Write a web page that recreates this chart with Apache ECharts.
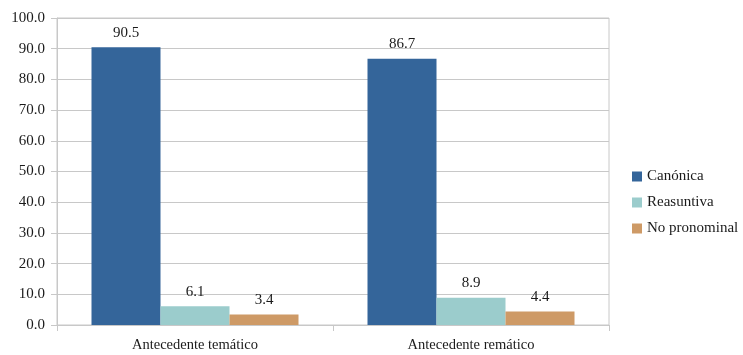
<!DOCTYPE html>
<html>
<head>
<meta charset="utf-8">
<script src="https://cdn.jsdelivr.net/npm/echarts@6/dist/echarts.min.js"></script>
<style>html,body{margin:0;padding:0;background:#fff;}#c{width:743px;height:355px;}</style>
</head>
<body>
<div id="c"></div>
<script>
const categories = ['Antecedente temático', 'Antecedente remático'];
const seriesNames = ['Canónica', 'Reasuntiva', 'No pronominal'];
const canonica = [90.5, 86.7];
const reasuntiva = [6.1, 8.9];
const noPronominal = [3.4, 4.4];
const colors = ['#34659A', '#9BCCCC', '#CE9A66'];

const font = 'Liberation Serif';
const textColor = '#1a1a1a';
const gridColor = '#c8c8c8';

const chart = echarts.init(document.getElementById('c'));
function mk(name, data, color) {
  return {
    name: name, type: 'bar', data: data, barGap: '0%', barCategoryGap: '25%',
    itemStyle: { color: color },
    label: { show: true, position: 'top', distance: 7, fontFamily: font, fontSize: 15, color: textColor,
      formatter: p => p.value.toFixed(1) }
  };
}
chart.setOption({
  animation: false,
  grid: { left: 57, right: 134, top: 18, bottom: 30, show: true, borderColor: gridColor, borderWidth: 1 },
  legend: {
    orient: 'vertical', left: 627, top: 164, itemWidth: 10, itemHeight: 10, itemGap: 11,
    icon: 'rect',
    textStyle: { fontFamily: font, fontSize: 15, color: textColor },
    data: seriesNames
  },
  xAxis: {
    type: 'category', data: categories,
    axisLine: { lineStyle: { color: gridColor } },
    axisTick: { show: true, length: 6, lineStyle: { color: gridColor } },
    axisLabel: { fontFamily: font, fontSize: 14.5, color: textColor, margin: 13 }
  },
  yAxis: {
    type: 'value', min: 0, max: 100, interval: 10,
    axisLine: { show: true, lineStyle: { color: gridColor } },
    axisTick: { show: true, length: 6, lineStyle: { color: gridColor } },
    splitLine: { lineStyle: { color: gridColor } },
    axisLabel: { fontFamily: font, fontSize: 15, color: textColor, margin: 12, formatter: v => v.toFixed(1) }
  },
  series: [
    mk(seriesNames[0], canonica, colors[0]),
    mk(seriesNames[1], reasuntiva, colors[1]),
    mk(seriesNames[2], noPronominal, colors[2])
  ]
});
</script>
</body>
</html>
